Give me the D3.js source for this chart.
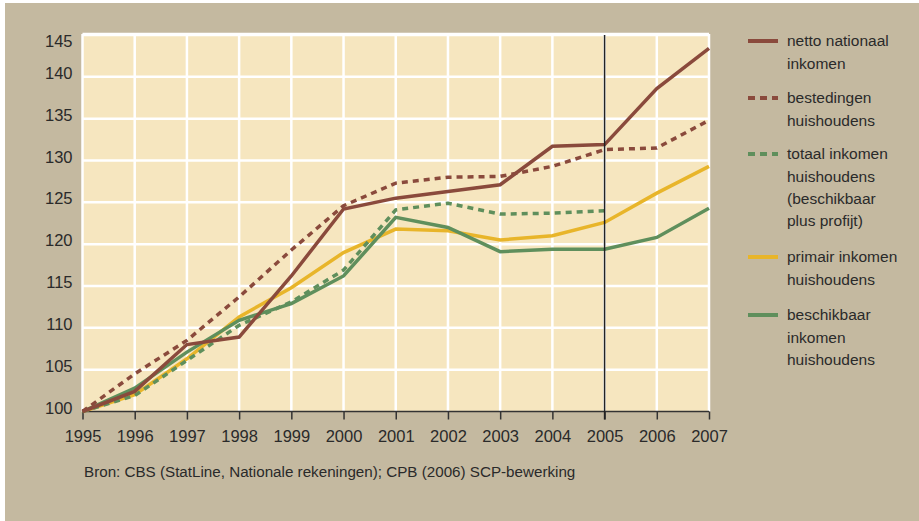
<!DOCTYPE html>
<html>
<head>
<meta charset="utf-8">
<title>Inkomen en bestedingen</title>
<style>
  body { margin: 0; background: #fff; }
  text { font-family: "Liberation Sans", Arial, sans-serif; fill: #2a2a2a; }
</style>
</head>
<body>
<script src="https://cdnjs.cloudflare.com/ajax/libs/d3/7.8.5/d3.min.js"></script>
<script>
// data (index, 1995 = 100)
var years = [1995,1996,1997,1998,1999,2000,2001,2002,2003,2004,2005,2006,2007];
var yTicks = [100,105,110,115,120,125,130,135,140,145];

var nettoNationaal = [100,102.4,108.0,108.9,116.2,124.2,125.5,126.3,127.1,131.7,131.9,138.6,143.4];
var bestedingen    = [100,104.5,108.5,113.7,119.3,124.6,127.3,128.0,128.1,129.3,131.3,131.5,134.8];
var totaalInkomen  = [100,101.9,106.1,110.3,113.1,116.9,124.1,124.9,123.6,123.7,124.0];
var primairInkomen = [100,102.0,106.3,111.3,114.8,119.0,121.8,121.6,120.5,121.0,122.6,126.1,129.3];
var beschikbaar    = [100,102.8,107.1,110.9,112.9,116.2,123.2,122.0,119.1,119.4,119.4,120.8,124.3];

var brown = '#8a4a3c', green = '#5f8f5c', yellow = '#e8b52a';

var series = [
  {name:['netto nationaal','inkomen'], values:nettoNationaal, color:brown, dash:null},
  {name:['bestedingen','huishoudens'], values:bestedingen, color:brown, dash:'6,5'},
  {name:['totaal inkomen','huishoudens','(beschikbaar','plus profijt)'], values:totaalInkomen, color:green, dash:'6,5'},
  {name:['primair inkomen','huishoudens'], values:primairInkomen, color:yellow, dash:null},
  {name:['beschikbaar','inkomen','huishoudens'], values:beschikbaar, color:green, dash:null}
];
// draw order: yellow and greens below browns
var drawOrder = [3,4,2,1,0];

var W = 919, H = 521;
var plot = {left:82.5, right:709, top:34, bottom:411.5};

var svg = d3.select('body').append('svg')
  .attr('width',W)
  .attr('height',H);

// outer background
svg.append('rect')
  .attr('x',5).attr('y',3)
  .attr('width',W-5).attr('height',H-3)
  .attr('fill','#c4b9a0');

var x = d3.scaleLinear()
  .domain([1995,2007])
  .range([plot.left,plot.right]);

var y = d3.scaleLinear()
  .domain([100,145])
  .range([plot.bottom,plot.top+1]);

// plot background
svg.append('rect')
  .attr('x',plot.left).attr('y',plot.top)
  .attr('width',plot.right-plot.left).attr('height',plot.bottom-plot.top)
  .attr('fill','#f6e6bf');

// grid
var grid = svg.append('g');
grid.selectAll('line.v').data(years)
  .enter().append('line')
  .attr('x1',function(d){return x(d);}).attr('x2',function(d){return x(d);})
  .attr('y1',plot.top).attr('y2',plot.bottom)
  .attr('stroke','#fff').attr('stroke-width',2.5);
grid.selectAll('line.h').data(yTicks.slice(1))
  .enter().append('line')
  .attr('x1',plot.left).attr('x2',plot.right)
  .attr('y1',function(d){return y(d);}).attr('y2',function(d){return y(d);})
  .attr('stroke','#fff').attr('stroke-width',2.5);
grid.append('line')
  .attr('x1',plot.left).attr('x2',plot.right)
  .attr('y1',plot.top).attr('y2',plot.top)
  .attr('stroke','#fff').attr('stroke-width',2.5);

// y axis labels
var yAxis = svg.append('g')
  .attr('transform','translate('+(plot.left-10)+',0)')
  .call(d3.axisLeft(y).tickValues(yTicks).tickSize(0).tickPadding(0));
yAxis.select('.domain').remove();
yAxis.selectAll('text')
  .attr('font-size',16.5)
  .attr('dy',function(d){return d===145 ? '0.7em' : '0.1em';})
  .style('font-family','"Liberation Sans", Arial, sans-serif')
  .attr('fill','#2a2a2a');

// x axis
var xAxis = svg.append('g')
  .attr('transform','translate(0,'+plot.bottom+')')
  .call(d3.axisBottom(x).tickValues(years).tickFormat(d3.format('d')).tickSize(8).tickPadding(11));
xAxis.select('.domain').attr('stroke','#333').attr('stroke-width',1.5)
  .attr('d','M'+plot.left+',0H'+plot.right);
xAxis.selectAll('.tick line').attr('stroke','#333').attr('stroke-width',1.5);
xAxis.selectAll('text')
  .attr('font-size',16.5)
  .style('font-family','"Liberation Sans", Arial, sans-serif')
  .attr('fill','#2a2a2a');

// lines
var line = d3.line()
  .x(function(d,i){return x(years[i]);})
  .y(function(d){return y(d);});

svg.append('g').selectAll('path')
  .data(drawOrder.map(function(i){return series[i];}))
  .enter().append('path')
  .attr('d',function(d){return line(d.values);})
  .attr('fill','none')
  .attr('stroke',function(d){return d.color;})
  .attr('stroke-width',3.5)
  .attr('stroke-dasharray',function(d){return d.dash;});

// 2005 marker
svg.append('line')
  .attr('x1',x(2005)).attr('x2',x(2005))
  .attr('y1',plot.top+1).attr('y2',plot.bottom+8)
  .attr('stroke','#222').attr('stroke-width',1.5);

// legend
var legendY = [41,98,154,257,315];
var lineH = 22.3;
var legend = svg.append('g').selectAll('g')
  .data(series)
  .enter().append('g')
  .attr('transform',function(d,i){return 'translate(748,'+legendY[i]+')';});

legend.append('line')
  .attr('x1',0).attr('x2',30)
  .attr('stroke',function(d){return d.color;})
  .attr('stroke-width',4)
  .attr('stroke-dasharray',function(d){return d.dash ? '7,5' : null;});

legend.each(function(d){
  var g = d3.select(this);
  d.name.forEach(function(t,j){
    g.append('text')
      .attr('x',39).attr('y',j*lineH)
      .attr('dy','0.35em')
      .attr('font-size',15.5)
      .text(t);
  });
});

// source
svg.append('text')
  .attr('x',84).attr('y',477)
  .attr('font-size',15.2)
  .text('Bron: CBS (StatLine, Nationale rekeningen); CPB (2006) SCP-bewerking');
</script>
</body>
</html>
